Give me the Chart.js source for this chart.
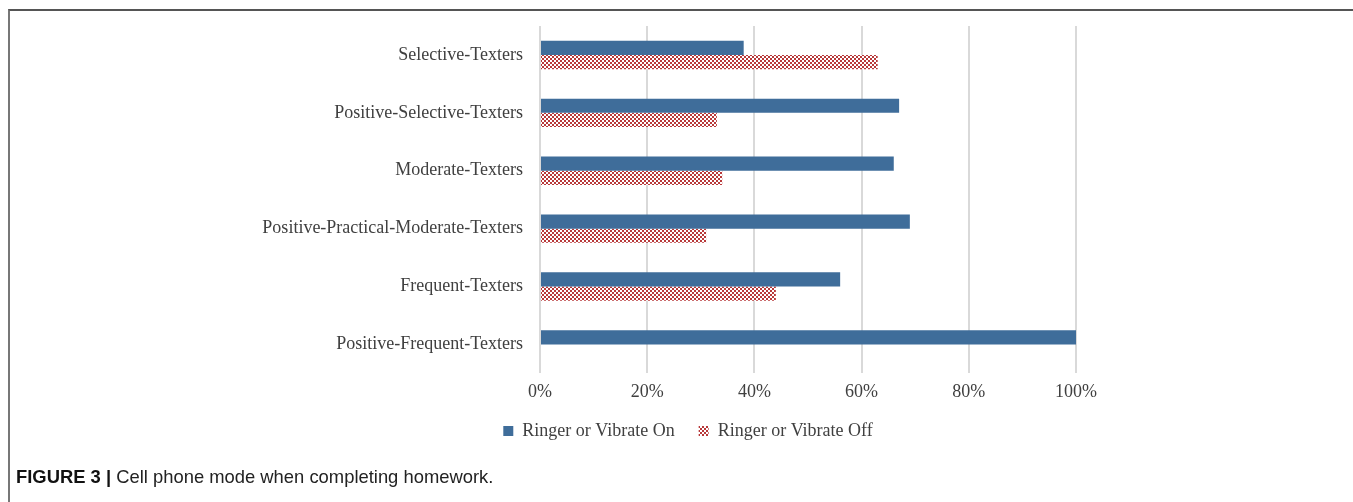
<!DOCTYPE html>
<html>
<head>
  <script src="https://cdn.jsdelivr.net/npm/chart.js"></script>
  <style>
    body { margin: 0; background: #fff; width: 1353px; height: 502px; overflow: hidden; position: relative; }
    .frame { position: absolute; left: 8px; top: 9px; right: 0; bottom: -4px; border-top: 2px solid #555; border-left: 2px solid #777; }
    .chart-box { position: absolute; left: 0px; top: 0px; width: 1353px; height: 470px; }
    .caption { position: absolute; left: 16px; top: 466px; font-family: "Liberation Sans", Arial, sans-serif; font-size: 18.4px; color: #222; white-space: nowrap; }
    .caption b { color: #111; }
  </style>
</head>
<body>
  <div class="frame"></div>
  <div class="chart-box"><canvas id="phoneChart" width="1353" height="470"></canvas></div>
  <div class="caption"><b>FIGURE 3 |</b> Cell phone mode when completing homework.</div>
  <script>
    const categories = [
      'Selective-Texters',
      'Positive-Selective-Texters',
      'Moderate-Texters',
      'Positive-Practical-Moderate-Texters',
      'Frequent-Texters',
      'Positive-Frequent-Texters'
    ];
    const ringerOn = [38, 67, 66, 69, 56, 100];
    const ringerOff = [63, 33, 34, 31, 44, 0];
    const xTicks = [0, 20, 40, 60, 80, 100];

    const BLUE = '#3f6d9a';
    const RED = '#b8393a';
    const serif = '"Liberation Serif", "Times New Roman", serif';

    // small red/white checkerboard used for the "off" series
    function makeChecker() {
      const c = document.createElement('canvas');
      c.width = 4; c.height = 4;
      const g = c.getContext('2d');
      g.fillStyle = '#ffffff';
      g.fillRect(0, 0, 4, 4);
      g.fillStyle = RED;
      g.fillRect(0, 0, 2, 2);
      g.fillRect(2, 2, 2, 2);
      return g.createPattern(c, 'repeat');
    }
    const checker = makeChecker();

    // the original legend sits centred under the plot, not under the whole figure
    const legendShift = {
      id: 'legendShift',
      afterLayout(chart) {
        const lg = chart.legend;
        lg.left += 150; lg.right += 150;
        lg.top -= 13; lg.bottom -= 13;
      }
    };

    new Chart(document.getElementById('phoneChart'), {
      type: 'bar',
      data: {
        labels: categories,
        datasets: [
          { label: 'Ringer or Vibrate On', data: ringerOn, backgroundColor: BLUE, borderWidth: 0 },
          { label: 'Ringer or Vibrate Off', data: ringerOff, backgroundColor: checker, borderWidth: 0 }
        ]
      },
      plugins: [legendShift],
      options: {
        indexAxis: 'y',
        responsive: false,
        animation: false,
        layout: { padding: { top: 26, right: 277, bottom: 7, left: 0 } },
        datasets: { bar: { categoryPercentage: 0.49, barPercentage: 1.0 } },
        plugins: {
          tooltip: { enabled: false },
          legend: {
            position: 'bottom',
            labels: {
              font: { family: serif, size: 18 },
              color: '#404040',
              boxWidth: 10,
              boxHeight: 10,
              padding: 24
            }
          }
        },
        scales: {
          x: {
            min: 0,
            max: 100,
            afterBuildTicks: (axis) => { axis.ticks = xTicks.map(v => ({ value: v })); },
            grid: { color: '#d9d9d9', lineWidth: 2, drawTicks: false },
            border: { display: false },
            ticks: {
              padding: 8,
              color: '#404040',
              font: { family: serif, size: 18 },
              callback: (v) => v + '%'
            }
          },
          y: {
            afterFit: (axis) => { axis.width = 540; },
            grid: { display: false },
            border: { display: false },
            ticks: {
              padding: 9,
              color: '#404040',
              font: { family: serif, size: 18 }
            }
          }
        }
      }
    });
  </script>
</body>
</html>
